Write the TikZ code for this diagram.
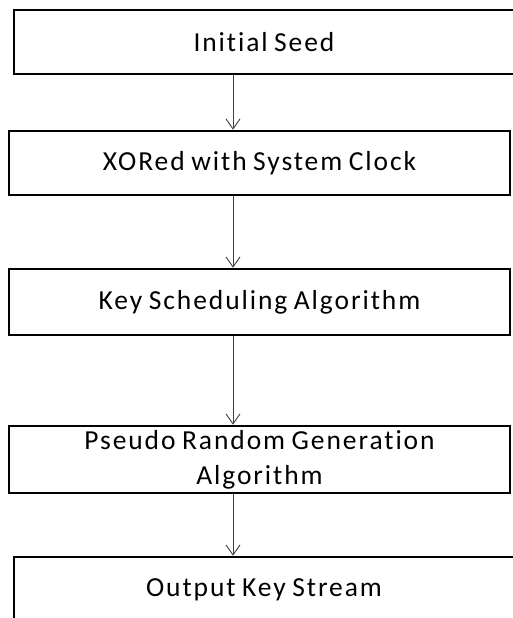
\documentclass[tikz,border=0pt]{standalone}
\usepackage{fontspec}
\setmainfont{Carlito}[LetterSpace=7,WordSpace=0.8,Ligatures=NoCommon]
\usetikzlibrary{arrows.meta}
\begin{document}
\begin{tikzpicture}[x=1pt,y=-1pt,
  box/.style={draw=black,line width=2.6pt,inner sep=0pt,minimum width=501pt,
    align=center,font=\fontsize{27.5}{35}\selectfont},
  arr/.style={draw=black!75,line width=0.9pt,-{Straight Barb[length=10pt,width=14pt]}}]
\useasboundingbox (0,0) rectangle (512,618);
\fill[white] (0,0) rectangle (512,618);
\node[box,minimum width=500pt,minimum height=64pt] (s1) at (264,42) {Initial Seed};
\node[box,minimum height=64pt] (s2) at (259.5,163) {XORed with System Clock};
\node[box,minimum height=66pt] (s3) at (259.5,302) {Key Scheduling Algorithm};
\node[box,minimum height=67pt] (s4) at (259.5,459.5) {Pseudo Random Generation\\Algorithm};
\node[box,minimum width=500pt,minimum height=66pt] (s5) at (264,590) {Output Key Stream};
\coordinate (ax) at (233,0);
\draw[arr] (s1.south -| ax) -- (s2.north -| ax);
\draw[arr] (s2.south -| ax) -- (s3.north -| ax);
\draw[arr] (s3.south -| ax) -- (s4.north -| ax);
\draw[arr] (s4.south -| ax) -- (s5.north -| ax);
\end{tikzpicture}
\end{document}
